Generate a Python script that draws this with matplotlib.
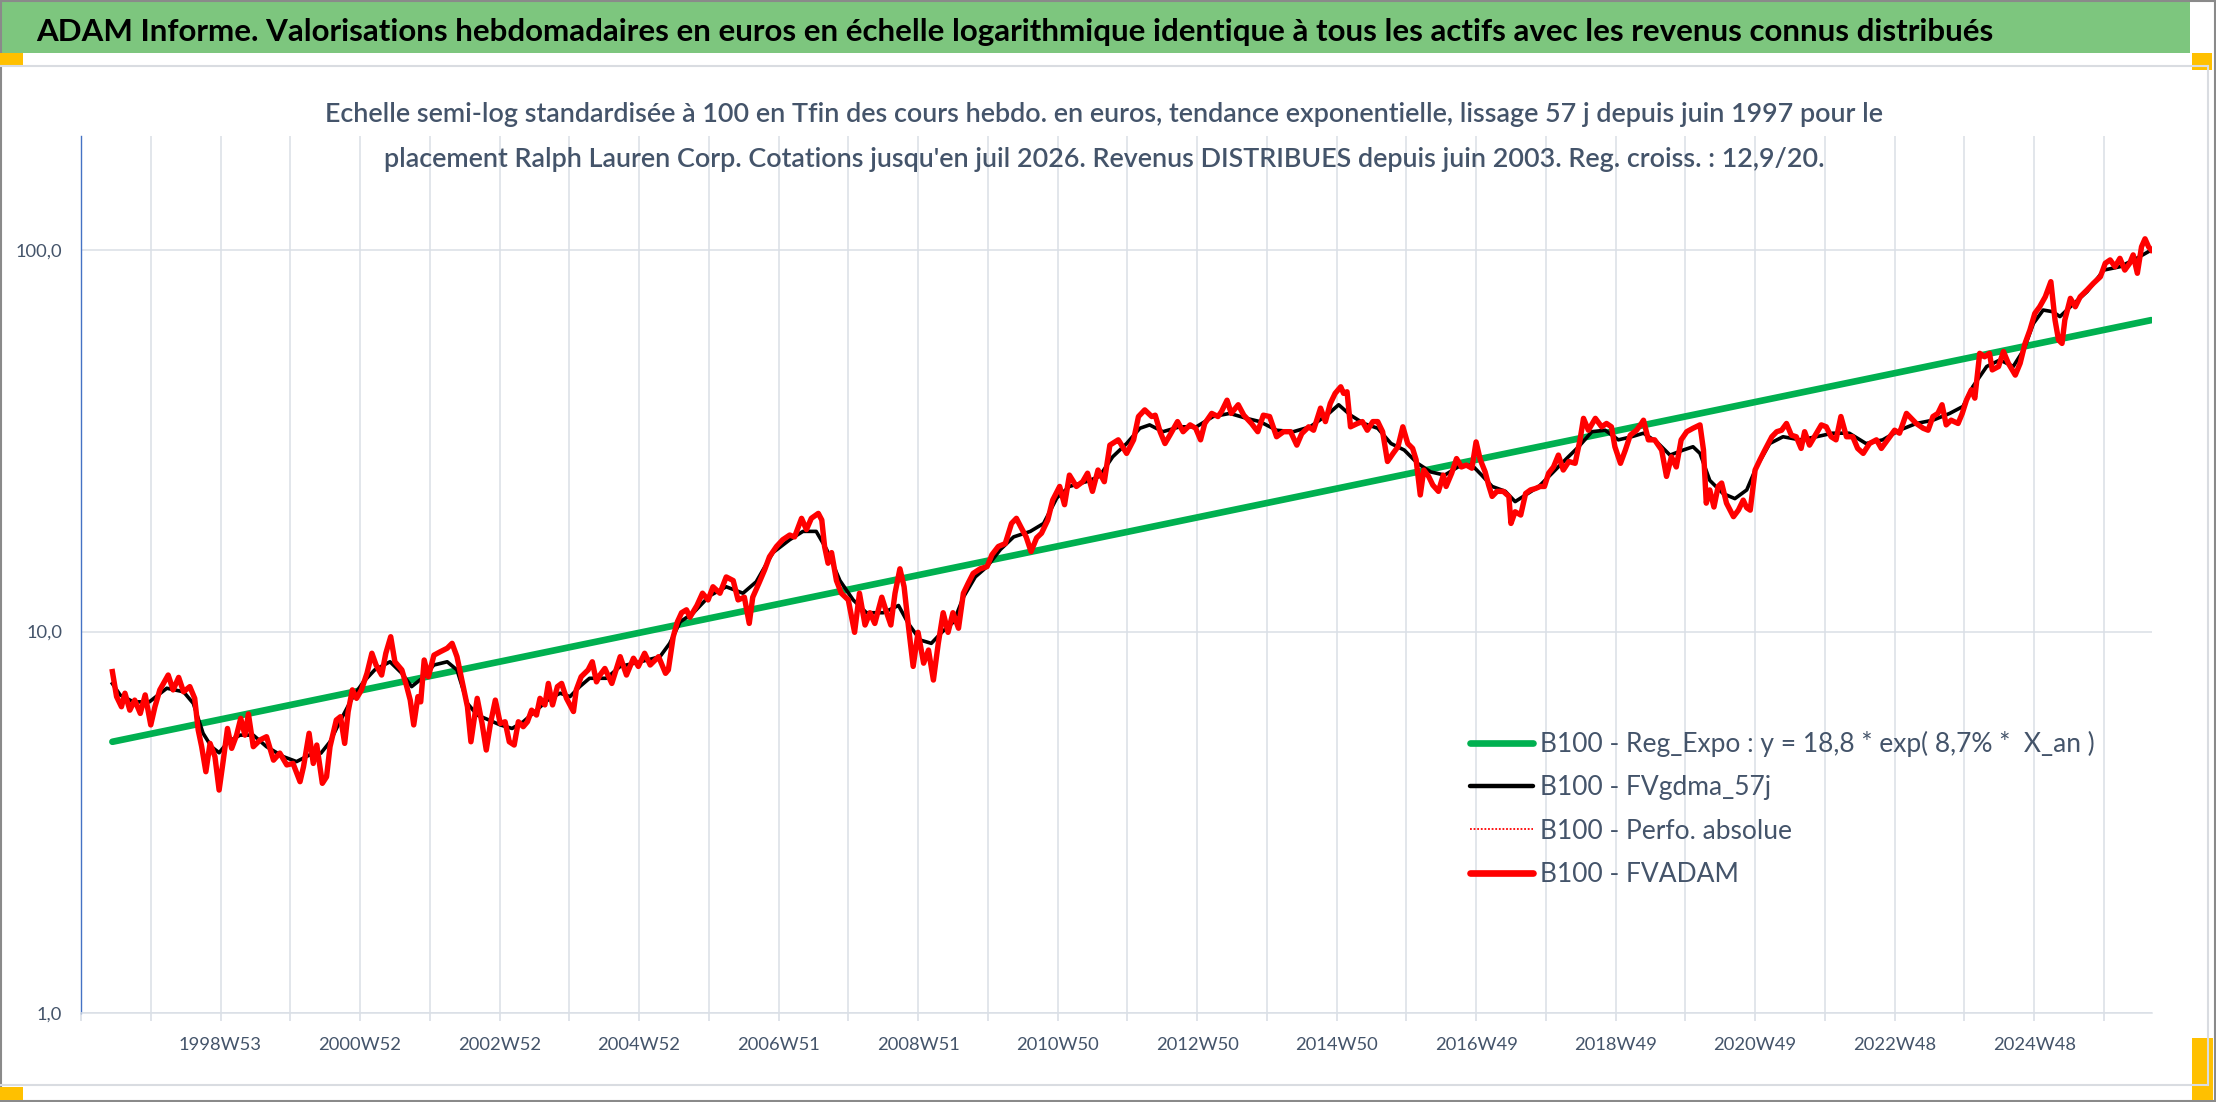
import matplotlib
matplotlib.use("Agg")
import matplotlib.pyplot as plt
from matplotlib.patches import Rectangle
from matplotlib.lines import Line2D
from matplotlib.ticker import NullLocator

# ---------------- texts ----------------
TITLE = ("ADAM Informe. Valorisations hebdomadaires en euros en échelle logarithmique "
         "identique à tous les actifs avec les revenus connus distribués")
SUB1 = ("Echelle semi-log standardisée à 100 en Tfin des cours hebdo. en euros, tendance "
        "exponentielle, lissage 57 j depuis juin 1997 pour le")
SUB2 = ("placement Ralph Lauren Corp. Cotations jusqu'en juil 2026. Revenus DISTRIBUES "
        "depuis juin 2003. Reg. croiss. : 12,9/20.")
LEGEND_LABELS = [
    "B100 - Reg_Expo : y = 18,8 * exp( 8,7% *  X_an )",
    "B100 - FVgdma_57j",
    "B100 - Perfo. absolue",
    "B100 - FVADAM",
]

# ---------------- axes ticks ----------------
XTICK_YEARS = list(range(1997, 2027))
XLABEL_YEARS = [1999, 2001, 2003, 2005, 2007, 2009, 2011, 2013, 2015, 2017, 2019, 2021, 2023, 2025]
XLABELS = ["1998W53", "2000W52", "2002W52", "2004W52", "2006W51", "2008W51", "2010W50",
           "2012W50", "2014W50", "2016W49", "2018W49", "2020W49", "2022W48", "2024W48"]
YTICKS = [1, 10, 100]
YLABELS = ["1,0", "10,0", "100,0"]

# ---------------- data (decimal year, value) ----------------
RED_T = [1997.45, 1997.51, 1997.58, 1997.63, 1997.70, 1997.77, 1997.85, 1997.92, 1998.00, 1998.06,
         1998.13, 1998.25, 1998.32, 1998.40, 1998.47, 1998.56, 1998.63, 1998.68, 1998.73, 1998.79,
         1998.85, 1998.92, 1998.98, 1999.04, 1999.10, 1999.16, 1999.23, 1999.29, 1999.35, 1999.40,
         1999.47, 1999.57, 1999.66, 1999.76, 1999.85, 1999.95, 2000.04, 2000.14, 2000.19, 2000.27,
         2000.33, 2000.38, 2000.46, 2000.52, 2000.57, 2000.66, 2000.72, 2000.78, 2000.83, 2000.89,
         2000.95, 2001.02, 2001.10, 2001.17, 2001.23, 2001.31, 2001.37, 2001.44, 2001.50, 2001.60,
         2001.67, 2001.72, 2001.77, 2001.83, 2001.87, 2001.92, 2001.98, 2002.06, 2002.15, 2002.25,
         2002.32, 2002.39, 2002.46, 2002.54, 2002.59, 2002.68, 2002.75, 2002.81, 2002.87, 2002.94,
         2003.01, 2003.08, 2003.14, 2003.21, 2003.27, 2003.34, 2003.40, 2003.46, 2003.53, 2003.58,
         2003.65, 2003.70, 2003.76, 2003.83, 2003.89, 2003.96, 2004.06, 2004.10, 2004.17, 2004.27,
         2004.33, 2004.39,
         2004.44, 2004.51, 2004.61, 2004.73, 2004.82, 2004.92, 2004.99, 2005.08, 2005.16, 2005.28,
         2005.38, 2005.42, 2005.49, 2005.55, 2005.61, 2005.68, 2005.73, 2005.83, 2005.91, 2005.99,
         2006.06, 2006.16, 2006.25, 2006.35, 2006.42, 2006.51, 2006.58, 2006.63, 2006.72, 2006.80,
         2006.87, 2006.97, 2007.06, 2007.16, 2007.23, 2007.33, 2007.40, 2007.47, 2007.57, 2007.62,
         2007.66, 2007.71, 2007.76, 2007.83, 2007.90, 2008.00, 2008.09, 2008.16, 2008.24, 2008.31,
         2008.38, 2008.48, 2008.55, 2008.61, 2008.67, 2008.74, 2008.80, 2008.86, 2008.93, 2009.00,
         2009.08, 2009.15, 2009.22, 2009.29, 2009.36, 2009.43, 2009.50, 2009.58, 2009.65, 2009.72,
         2009.79, 2009.89, 2009.99, 2010.06, 2010.15, 2010.25, 2010.34, 2010.41, 2010.48, 2010.55,
         2010.62, 2010.70, 2010.77, 2010.86, 2010.93, 2011.03, 2011.10, 2011.17, 2011.27, 2011.36,
         2011.43, 2011.50, 2011.58, 2011.67, 2011.75, 2011.87,
         2011.89, 2011.99, 2012.09, 2012.16, 2012.25, 2012.35, 2012.40, 2012.47, 2012.54, 2012.61,
         2012.72, 2012.80, 2012.90, 2012.98, 2013.05, 2013.11, 2013.21, 2013.30, 2013.35, 2013.43,
         2013.49, 2013.59, 2013.67, 2013.78, 2013.87, 2013.95, 2014.04, 2014.14, 2014.24, 2014.34,
         2014.43, 2014.50, 2014.60, 2014.67, 2014.77, 2014.84, 2014.91, 2014.98, 2015.06, 2015.10,
         2015.15, 2015.20, 2015.30, 2015.37, 2015.44, 2015.52, 2015.59, 2015.66, 2015.73, 2015.81,
         2015.88, 2015.95, 2016.02, 2016.09, 2016.14, 2016.20, 2016.25, 2016.32, 2016.38, 2016.46,
         2016.53, 2016.57, 2016.65, 2016.72, 2016.79, 2016.86, 2016.94, 2017.00, 2017.06, 2017.13,
         2017.18, 2017.23, 2017.30, 2017.39, 2017.47, 2017.50, 2017.56, 2017.64, 2017.71, 2017.78,
         2017.85, 2017.92, 2017.98, 2018.04, 2018.11, 2018.18, 2018.25, 2018.33, 2018.42, 2018.49,
         2018.54, 2018.61, 2018.71, 2018.80, 2018.87, 2018.94, 2018.99, 2019.07, 2019.14, 2019.21,
         2019.30, 2019.37,
         2019.40, 2019.47, 2019.56, 2019.66, 2019.73, 2019.80, 2019.87, 2019.94, 2020.02, 2020.11,
         2020.21, 2020.26, 2020.30, 2020.35, 2020.41, 2020.47, 2020.52, 2020.59, 2020.69, 2020.76,
         2020.83, 2020.88, 2020.93, 2021.00, 2021.07, 2021.14, 2021.24, 2021.31, 2021.38, 2021.45,
         2021.52, 2021.59, 2021.66, 2021.71, 2021.78, 2021.85, 2021.95, 2022.02, 2022.09, 2022.16,
         2022.23, 2022.31, 2022.40, 2022.47, 2022.55, 2022.64, 2022.74, 2022.81, 2022.90, 2023.00,
         2023.07, 2023.17, 2023.24, 2023.31, 2023.41, 2023.48, 2023.55, 2023.62, 2023.68, 2023.74,
         2023.81, 2023.91, 2023.97, 2024.03, 2024.10, 2024.15, 2024.22, 2024.29, 2024.36, 2024.40,
         2024.49, 2024.56, 2024.63, 2024.73, 2024.80, 2024.87, 2024.94, 2025.01, 2025.08, 2025.16,
         2025.24, 2025.30, 2025.35, 2025.40, 2025.44, 2025.52, 2025.59, 2025.66, 2025.76, 2025.85,
         2025.95, 2026.02, 2026.09, 2026.16, 2026.23, 2026.30, 2026.37, 2026.42, 2026.48, 2026.54,
         2026.59, 2026.64, 2026.68]
RED_V = [7.85, 6.75, 6.35, 6.89, 6.22, 6.61, 6.10, 6.82, 5.69, 6.35,
         7.03, 7.69, 7.03, 7.58, 6.95, 7.17, 6.68, 5.52, 4.99, 4.29,
         5.09, 4.70, 3.84, 4.60, 5.57, 4.94, 5.35, 5.92, 5.35, 6.08,
         4.99, 5.20, 5.30, 4.60, 4.80, 4.47, 4.51, 4.04, 4.42, 5.41,
         4.51, 5.04, 4.00, 4.16, 4.99, 5.86, 5.98, 5.09, 6.17, 7.03,
         6.68, 7.03, 7.77, 8.77, 8.17, 7.69, 8.77, 9.69, 8.33, 7.93,
         7.17, 6.61, 5.69, 6.75, 6.54, 8.42, 7.61, 8.67, 8.85, 9.04,
         9.31, 8.59, 7.46, 6.35, 5.14, 6.68, 5.74, 4.89, 5.74, 6.61,
         5.74, 5.80, 5.14, 5.04, 5.80, 5.63, 5.80, 6.22, 6.04, 6.68,
         6.42, 7.31, 6.42, 7.17, 7.31, 6.68, 6.17, 7.03, 7.61, 7.93,
         8.33, 7.38,
         7.69, 8.00, 7.31, 8.59, 7.69, 8.51, 8.10, 8.77, 8.17, 8.59,
         7.77, 7.93, 9.69, 10.6, 11.2, 11.4, 10.9, 11.7, 12.6, 12.1,
         13.1, 12.6, 13.9, 13.6, 12.1, 12.3, 10.5, 12.3, 13.4, 14.5,
         15.7, 16.7, 17.4, 17.9, 17.7, 19.8, 18.5, 19.8, 20.4, 19.6,
         16.7, 15.1, 16.1, 13.6, 12.6, 12.1, 9.95, 12.6, 10.4, 11.2,
         10.5, 12.3, 11.2, 10.4, 12.6, 14.6, 13.1, 10.4, 8.10, 9.95,
         8.26, 8.94, 7.46, 9.31, 11.2, 9.95, 11.2, 10.2, 12.6, 13.4,
         14.2, 14.6, 14.8, 15.9, 16.7, 17.0, 19.2, 19.8, 18.7, 17.7,
         16.2, 17.6, 18.1, 19.6, 22.1, 24.0, 21.5, 25.7, 24.0, 24.7,
         26.0, 23.3, 26.5, 24.7, 30.8, 31.8,
         31.4, 29.3, 31.8, 36.6, 38.1, 36.6, 36.9, 33.4, 31.1, 32.7,
         35.5, 33.4, 34.8, 34.1, 31.8, 35.1, 37.3, 36.6, 37.7, 40.4,
         37.3, 39.3, 36.9, 35.1, 33.4, 36.9, 36.6, 32.4, 33.4, 33.4,
         30.8, 33.0, 34.4, 33.7, 38.5, 35.5, 39.6, 42.1, 43.8, 42.1,
         42.5, 34.4, 35.1, 35.5, 33.7, 35.5, 35.5, 33.4, 27.9, 29.3,
         30.5, 34.4, 31.1, 30.2, 28.2, 22.8, 26.5, 25.5, 24.2, 23.3,
         25.7, 24.0, 26.0, 28.4, 27.0, 27.3, 26.8, 31.4, 28.2, 26.2,
         24.2, 22.6, 23.3, 23.3, 22.6, 19.2, 20.6, 20.2, 23.0, 23.5,
         23.7, 24.0, 24.0, 26.0, 27.0, 29.0, 26.5, 27.9, 27.6, 31.8,
         36.2, 33.7, 36.2, 34.4, 35.1, 34.4, 30.5, 27.6, 29.9, 32.7,
         33.7, 35.1,
         35.8, 31.8, 31.8, 29.9, 25.5, 28.7, 27.0, 31.8, 33.4, 34.1,
         34.8, 29.9, 21.7, 23.5, 21.2, 24.0, 24.5, 21.7, 20.0, 20.8,
         22.1, 21.1, 20.8, 26.5, 28.2, 29.9, 32.4, 33.4, 33.7, 35.1,
         32.7, 32.4, 30.2, 33.4, 30.8, 32.4, 34.8, 34.4, 32.4, 31.8,
         36.6, 32.4, 32.4, 30.2, 29.3, 31.1, 31.8, 30.2, 31.8, 33.7,
         33.1, 37.3, 36.2, 35.1, 34.1, 33.7, 36.6, 37.3, 39.3, 34.8,
         35.8, 35.1, 37.3, 40.4, 43.0, 40.9, 53.6, 52.5, 53.6, 48.5,
         49.5, 54.2, 50.5, 47.0, 50.5, 56.9, 61.7, 68.2, 71.0, 75.4,
         82.6, 65.5, 58.1, 56.9, 65.5, 74.7, 71.0, 75.4, 78.6, 81.8,
         85.1, 92.3, 94.2, 90.4, 95.1, 88.6, 92.3, 97.1, 86.9, 102.0,
         107.0, 102.0, 100.0]

BLK_T = [1997.45, 1997.56, 1997.75, 1997.98, 1998.23, 1998.47, 1998.61, 1998.75, 1998.87, 1998.98,
         1999.11, 1999.28, 1999.47, 1999.66, 1999.90, 2000.09, 2000.28, 2000.44, 2000.57, 2000.71,
         2000.90, 2001.05, 2001.21, 2001.43, 2001.60, 2001.74, 2001.89, 2002.06, 2002.25, 2002.39,
         2002.54, 2002.68, 2002.85, 2003.01, 2003.18, 2003.34, 2003.53, 2003.72, 2003.87, 2004.01,
         2004.15, 2004.29, 2004.53, 2004.73, 2005.02, 2005.30, 2005.44, 2005.59, 2005.78, 2006.01,
         2006.25, 2006.49, 2006.68, 2006.92, 2007.16, 2007.35, 2007.54, 2007.69, 2007.88, 2008.07,
         2008.26, 2008.50, 2008.72, 2008.86, 2009.03, 2009.19, 2009.34, 2009.51, 2009.65, 2009.82,
         2009.99, 2010.18, 2010.37, 2010.61, 2010.80, 2010.99, 2011.17, 2011.41, 2011.60, 2011.79,
         2011.99, 2012.18, 2012.32, 2012.51, 2012.75, 2012.99, 2013.23, 2013.47, 2013.71, 2013.90,
         2014.14, 2014.38, 2014.62, 2014.86, 2015.03, 2015.20, 2015.39, 2015.59, 2015.78, 2015.97,
         2016.16, 2016.35, 2016.55, 2016.74, 2016.94, 2017.08, 2017.23, 2017.42, 2017.56, 2017.71,
         2017.90, 2018.09, 2018.28, 2018.47, 2018.66, 2018.85, 2019.04, 2019.23, 2019.40, 2019.59,
         2019.78, 2019.97, 2020.11, 2020.21, 2020.35, 2020.54, 2020.71, 2020.88, 2021.02, 2021.21,
         2021.40, 2021.64, 2021.88, 2022.11, 2022.35, 2022.59, 2022.83, 2023.07, 2023.31, 2023.55,
         2023.79, 2023.98, 2024.12, 2024.32, 2024.51, 2024.70, 2024.85, 2024.99, 2025.13, 2025.27,
         2025.37, 2025.52, 2025.76, 2026.00, 2026.23, 2026.47, 2026.68]
BLK_V = [7.30, 6.82, 6.54, 6.54, 7.10, 6.95, 6.48, 5.41, 4.99, 4.81,
         5.14, 5.35, 5.35, 4.99, 4.70, 4.56, 4.75, 4.80, 5.14, 5.80,
         6.75, 7.38, 7.93, 8.33, 7.77, 7.17, 7.54, 8.17, 8.33, 7.93,
         6.48, 6.04, 5.86, 5.69, 5.57, 5.80, 6.22, 6.68, 6.89, 6.75,
         7.17, 7.54, 7.54, 8.10, 8.33, 8.59, 9.31, 10.6, 11.2, 12.4,
         13.1, 12.6, 13.5, 16.1, 17.4, 18.3, 18.3, 16.4, 13.6, 12.1,
         11.2, 11.2, 11.7, 10.5, 9.50, 9.31, 9.95, 10.6, 12.3, 13.9,
         14.8, 16.4, 17.7, 18.3, 19.2, 22.4, 24.0, 24.7, 25.5, 28.7,
         31.1, 34.1, 34.8, 33.4, 34.4, 34.4, 36.6, 37.3, 36.2, 35.5,
         33.7, 33.4, 34.4, 36.9, 39.3, 36.9, 35.1, 34.1, 31.1, 29.9,
         27.6, 26.2, 25.7, 27.0, 27.3, 25.7, 24.0, 23.3, 21.9, 22.8,
         24.0, 26.0, 28.2, 30.5, 33.4, 33.7, 31.8, 32.4, 33.1, 31.4,
         29.0, 29.9, 30.5, 29.3, 24.9, 23.0, 22.3, 23.5, 27.0, 31.1,
         32.4, 31.8, 32.4, 33.1, 33.1, 31.1, 31.8, 33.7, 35.1, 35.8,
         37.3, 38.9, 43.8, 49.5, 51.5, 49.5, 54.7, 64.2, 69.6, 68.9,
         66.9, 71.0, 77.8, 88.6, 90.4, 95.1, 100.0]

REG_T = [1997.45, 2026.68]
REG_V = [5.14, 65.5]

# ---------------- style ----------------
GREEN = "#00b050"
RED = "#ff0000"
BLACK = "#000000"
GRID = "#dadfe6"
TXT = "#44546a"
BAR = "#7dc67e"
YEL = "#ffc000"

plt.rcParams["font.family"] = ["Lato", "DejaVu Sans"]

W, H = 2216, 1102
fig = plt.figure(figsize=(W / 100, H / 100), dpi=100)
fig.patch.set_facecolor("white")


def fx(x):
    return x / W


def fy(y):
    return 1 - y / H


renderer = fig.canvas.get_renderer()


def size_for(text, target_px, weight="normal"):
    t = fig.text(0, 0, text, fontsize=20, fontweight=weight)
    w = t.get_window_extent(renderer=renderer).width
    t.remove()
    return 20 * target_px / w


# ---------------- frame decorations ----------------
fig.add_artist(Rectangle((fx(0), fy(53)), fx(2190), 53 / H, transform=fig.transFigure,
                         facecolor=BAR, edgecolor="none", zorder=0))
for (xa, ya, xb, yb) in [(0, 66, 2208, 66), (2208, 66, 2208, 1085), (0, 1085, 2208, 1085)]:
    fig.add_artist(Line2D([fx(xa), fx(xb)], [fy(ya), fy(yb)], transform=fig.transFigure,
                          color="#d9dce1", lw=1.5))
fig.add_artist(Rectangle((0.0005, 0.001), 0.999, 0.998, transform=fig.transFigure,
                         facecolor="none", edgecolor="#8a8a8a", lw=1.5))
for (x0, y0, x1, y1) in [(0, 53, 23, 66), (2192, 53, 2212, 70), (0, 1087, 23, 1100),
                         (2192, 1038, 2213, 1100)]:
    fig.add_artist(Rectangle((fx(x0), fy(y1)), (x1 - x0) / W, (y1 - y0) / H,
                             transform=fig.transFigure, facecolor=YEL, edgecolor="none"))

# ---------------- titles ----------------
fs_title = size_for(TITLE, 1953, "bold")
fig.text(fx(36), fy(41), TITLE, fontsize=fs_title, fontweight="bold", color="black",
         ha="left", va="baseline")
fs_sub = size_for(SUB1, 1559, "semibold")
fig.text(fx(1104), fy(122), SUB1, fontsize=fs_sub, fontweight="semibold", color=TXT,
         ha="center", va="baseline")
fig.text(fx(1104), fy(167), SUB2, fontsize=fs_sub, fontweight="semibold", color=TXT,
         ha="center", va="baseline")

# ---------------- axes ----------------
ax = fig.add_axes([fx(81), fy(1013), (2152 - 81) / W, (1013 - 136) / H])
ax.set_yscale("log")
ax.set_ylim(1, 199)
ax.set_xlim(1997.0, 2026.69)
ax.set_axisbelow(True)

ax.plot(REG_T, REG_V, color=GREEN, lw=4.8, solid_capstyle="round", zorder=2)
ax.plot(BLK_T, BLK_V, color=BLACK, lw=2.6, zorder=3)
ax.plot(RED_T, RED_V, color=RED, lw=1.2, linestyle=(0, (1, 1)), zorder=3.5)
ax.plot(RED_T, RED_V, color=RED, lw=3.9, solid_joinstyle="round", zorder=4)

ax.yaxis.set_minor_locator(NullLocator())
ax.set_yticks(YTICKS)
ax.set_yticklabels(YLABELS)
ax.set_xticks(XTICK_YEARS)
ax.set_xticklabels([XLABELS[XLABEL_YEARS.index(y)] if y in XLABEL_YEARS else "" for y in XTICK_YEARS])

fs_tick = size_for("2022W48", 83)
ax.tick_params(axis="x", length=6, width=1.2, color=GRID, pad=11, labelsize=fs_tick,
               labelcolor=TXT)
ax.tick_params(axis="y", length=0, pad=13.5, labelsize=fs_tick, labelcolor=TXT)
ax.grid(True, color=GRID, lw=1.1)
for s in ("top", "right"):
    ax.spines[s].set_visible(False)
ax.spines["left"].set_color("#4472c4")
ax.spines["left"].set_linewidth(1.0)
ax.spines["bottom"].set_color(GRID)
ax.spines["bottom"].set_linewidth(1.1)

# ---------------- legend ----------------
fs_leg = size_for(LEGEND_LABELS[0], 555)
fs_px = fs_leg * 100 / 72
handles = [
    Line2D([], [], color=GREEN, lw=4.8, solid_capstyle="round"),
    Line2D([], [], color=BLACK, lw=3.2, solid_capstyle="round"),
    Line2D([], [], color=RED, lw=1.3, linestyle=(0, (1, 1))),
    Line2D([], [], color=RED, lw=4.8, solid_capstyle="round"),
]
leg = fig.legend(handles, LEGEND_LABELS, loc="upper left",
                 bbox_to_anchor=(fx(1470), fy(747 - 0.62 * fs_px)),
                 frameon=False, fontsize=fs_leg, handlelength=63 / fs_px,
                 handletextpad=7 / fs_px, labelspacing=(50 - 1.2 * fs_px) / fs_px,
                 borderpad=0, borderaxespad=0, labelcolor=TXT)

fig.savefig("out.png", dpi=100)
